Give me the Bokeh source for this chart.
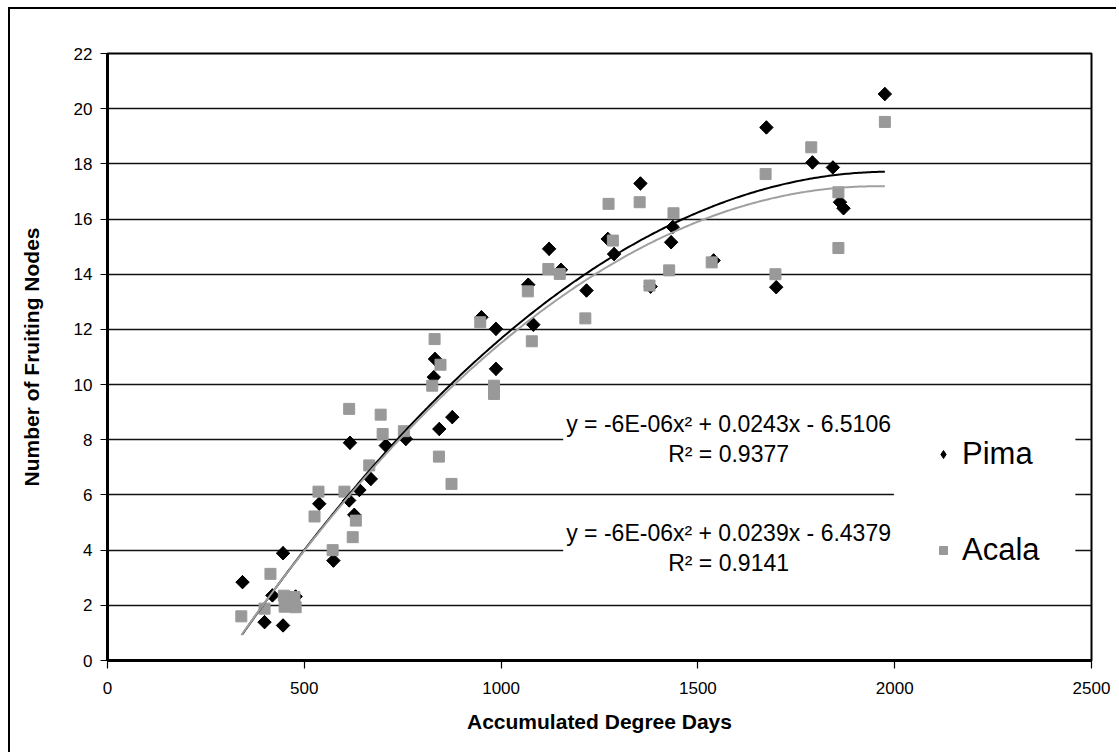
import numpy as np
from bokeh.plotting import figure
from bokeh.models import Range1d, Legend, LegendItem, Label, FixedTicker, BoxAnnotation
from bokeh.embed import file_html
from bokeh.resources import INLINE

# ---- data ----
pima_x = [343, 399, 419, 446, 446, 478, 538, 574, 614, 616, 627, 640, 669, 707, 758,
          829, 832, 843, 876, 950, 987, 987, 1069, 1082, 1122, 1152, 1217, 1271, 1287,
          1354, 1380, 1432, 1436, 1540, 1674, 1699, 1791, 1843, 1861, 1870, 1975]
pima_y = [2.84, 1.39, 2.36, 1.27, 3.89, 2.32, 5.68, 3.62, 5.80, 7.89, 5.28, 6.18, 6.58, 7.79, 8.03,
          10.27, 10.93, 8.39, 8.82, 12.44, 12.02, 10.57, 13.62, 12.17, 14.92, 14.16, 13.41, 15.28, 14.73,
          17.29, 13.55, 15.16, 15.71, 14.50, 19.32, 13.53, 18.05, 17.87, 16.61, 16.39, 20.53]

acala_x = [340, 399, 414, 448, 450, 475, 478, 526, 536, 572, 602, 614, 623, 631, 665, 694, 699,
           753, 825, 831, 842, 846, 874, 947, 982, 982, 1068, 1078, 1120, 1149, 1214, 1273, 1284,
           1352, 1377, 1427, 1438, 1535, 1672, 1697, 1788, 1857, 1857, 1975]
acala_y = [1.60, 1.88, 3.14, 2.35, 1.95, 2.30, 1.93, 5.22, 6.12, 4.00, 6.12, 9.12, 4.47, 5.07, 7.07, 8.91, 8.21,
           8.31, 9.96, 11.65, 7.39, 10.72, 6.40, 12.26, 9.96, 9.66, 13.38, 11.57, 14.19, 14.01, 12.40, 16.55, 15.22,
           16.61, 13.59, 14.14, 16.21, 14.43, 17.63, 14.00, 18.60, 16.97, 14.95, 19.52]

x_ticks = [0, 500, 1000, 1500, 2000, 2500]
y_ticks = [0, 2, 4, 6, 8, 10, 12, 14, 16, 18, 20, 22]
series_names = ["Pima", "Acala"]
pima_eq = "y = -6E-06x\u00b2 + 0.0243x - 6.5106\nR\u00b2 = 0.9377"
acala_eq = "y = -6E-06x\u00b2 + 0.0239x - 6.4379\nR\u00b2 = 0.9141"
x_title = "Accumulated Degree Days"
y_title = "Number of Fruiting Nodes"

BLACK = "#000000"
GRAY = "#999999"
SANS = "Liberation Sans"

p = figure(width=1108, height=745, output_backend="svg", toolbar_location=None,
           x_range=Range1d(0, 2500), y_range=Range1d(0, 22),
           min_border_left=97, min_border_right=27, min_border_top=44, min_border_bottom=94,
           background_fill_color="white", border_fill_color="white")
p.styles = {"margin-left": "8px", "margin-top": "7px",
            "border-left": "2px solid black", "border-top": "2px solid black"}

p.outline_line_color = BLACK
p.outline_line_width = 2
p.xgrid.visible = False
p.ygrid.ticker = FixedTicker(ticks=y_ticks)
p.ygrid.grid_line_color = "#111111"
p.ygrid.grid_line_width = 1.4

for ax in (p.xaxis[0], p.yaxis[0]):
    ax.axis_line_width = 3
    ax.axis_line_color = BLACK
    ax.major_tick_line_color = BLACK
    ax.major_tick_line_width = 1.2
    ax.major_tick_in = 0
    ax.minor_tick_line_color = None
    ax.major_label_text_font = SANS
    ax.major_label_text_font_size = "17px"
    ax.major_label_text_color = BLACK
    ax.axis_label_text_font = SANS
    ax.axis_label_text_font_style = "bold"
    ax.axis_label_text_font_size = "21px"
    ax.axis_label_text_color = BLACK

p.xaxis[0].ticker = FixedTicker(ticks=x_ticks)
p.yaxis[0].ticker = FixedTicker(ticks=y_ticks)
p.xaxis[0].major_tick_out = 8
p.yaxis[0].major_tick_out = 7
p.xaxis[0].major_label_standoff = 13
p.yaxis[0].major_label_standoff = 8
p.xaxis[0].axis_label = x_title
p.yaxis[0].axis_label = y_title
p.xaxis[0].axis_label_standoff = 13
p.yaxis[0].axis_label_standoff = 28

# legend key for Pima: a diamond marker of the same points, fully hidden under the
# rotated squares drawn right after it
r_pima_key = p.scatter(pima_x, pima_y, marker="diamond", size=13,
                       fill_color=BLACK, line_color=BLACK)
# scatter points: Pima diamonds below, Acala squares on top
r_pima = p.scatter(pima_x, pima_y, marker="square", angle=np.pi / 4, size=9.5,
                   fill_color=BLACK, line_color=BLACK)
r_acala = p.scatter(acala_x, acala_y, marker="square", size=11,
                    fill_color=GRAY, line_color=GRAY)

# polynomial (order 2) trendlines fitted to the points
for xs, ys, col in ((pima_x, pima_y, BLACK), (acala_x, acala_y, "#a0a0a0")):
    coef = np.polyfit(xs, ys, 2)
    tx = np.linspace(min(xs), max(xs), 300)
    p.line(tx, np.polyval(coef, tx), line_color=col, line_width=2)

# equation labels
for txt, yy in ((pima_eq, 8.03), (acala_eq, 4.08)):
    p.add_layout(Label(x=1578, y=yy, text=txt, text_align="center", text_baseline="middle",
                       text_font=SANS, text_font_size="23px", text_color=BLACK,
                       text_line_height=1.17,
                       background_fill_color="white", background_fill_alpha=1.0, padding=3))

# white legend area hiding the gridlines
p.add_layout(BoxAnnotation(left=1998, right=2459, bottom=2.25, top=9.35,
                           fill_color="white", fill_alpha=1.0, line_color=None))

legend = Legend(items=[LegendItem(label=series_names[0], renderers=[r_pima_key]),
                       LegendItem(label=series_names[1], renderers=[r_acala])],
                location=(826, 92), padding=36, spacing=60, margin=0,
                glyph_width=20, glyph_height=36, label_height=36, label_standoff=9,
                label_text_font=SANS, label_text_font_size="31px", label_text_color=BLACK,
                border_line_color=None, background_fill_alpha=0.0)
p.add_layout(legend)

open("out.html", "w").write(file_html(p, INLINE))
